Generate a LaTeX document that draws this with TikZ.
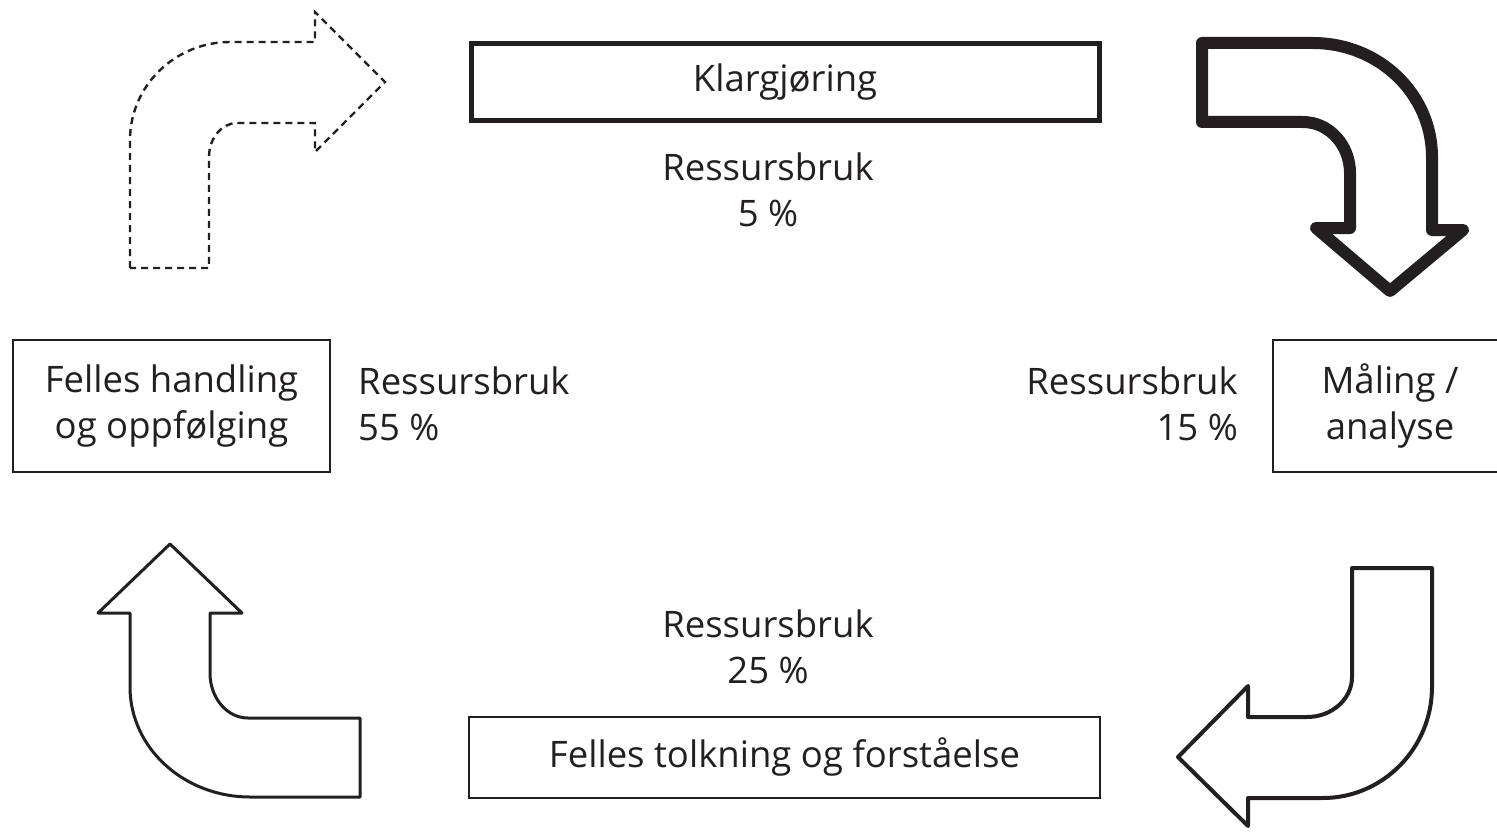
\documentclass[tikz,border=0pt]{standalone}
\usepackage{fontspec}
\setmainfont{Open Sans}
\definecolor{ink}{HTML}{231F20}
\begin{document}
\begin{tikzpicture}[x=1pt,y=-1pt,
  every node/.style={text=ink, font=\fontsize{36.5}{46.5}\selectfont},
  boxthin/.style={draw=ink, line width=2.5pt, inner sep=0pt},
  boxthick/.style={draw=ink, line width=5pt, inner sep=0pt},
  lbl/.style={align=center, inner sep=0pt},
  arrowdash/.style={draw=ink, line width=2.4pt, dash pattern=on 7pt off 5pt},
  arrowbold/.style={draw=ink, line width=12pt, line join=round},
  arrowmid/.style={draw=ink, line width=4pt, line join=round},
  arrowthin/.style={draw=ink, line width=3pt, line join=round}]
\useasboundingbox (0,0) rectangle (1497,832);
\begin{scope}
\clip (0,0) rectangle (1497,832);
% boxes
\node[boxthick, minimum width=628pt, minimum height=77pt] (klar) at (785,82) {Klargjøring};
\node[boxthin, minimum width=631pt, minimum height=81pt] (tolk) at (784.5,757.5) {Felles tolkning og forståelse};
\node[boxthin, minimum width=317pt, minimum height=132pt, align=center] (hand) at (171.5,406) {Felles handling\\og oppfølging};
\node[boxthin, minimum width=234pt, minimum height=132pt, align=center] (maal) at (1390,406) {Måling /\\analyse};
% labels
\node[lbl] (r5) at (768,190) {Ressursbruk\\5 \%};
\node[lbl, align=left, anchor=west] (r55) at (358,404) {Ressursbruk\\55 \%};
\node[lbl, align=right, anchor=east] (r15) at (1238,404) {Ressursbruk\\15 \%};
\node[lbl] (r25) at (768,647) {Ressursbruk\\25 \%};
% arrow 1 (dashed, top-left)
\draw[arrowdash] (130,268) -- (130,140) .. controls (130,86) and (175,42) .. (230,42)
  -- (315,42) -- (315,12) -- (385,82) -- (315,152) -- (315,123) -- (237,123)
  .. controls (222,123) and (209,138) .. (209,157) -- (209,268) -- cycle;
% arrow 2 (bold, top-right)
\draw[arrowbold] (1202,43) -- (1313,43) .. controls (1379,43) and (1432,94) .. (1432,157)
  -- (1432,230) -- (1463,230) -- (1390,291) -- (1316,228) -- (1350,228) -- (1350,173)
  .. controls (1350,145) and (1329,122) .. (1303,122) -- (1202,122) -- cycle;
% arrow 3 (bottom-right)
\draw[arrowmid] (1352,568) -- (1432,568) -- (1432,687) .. controls (1432,748) and (1383,798) .. (1323,798)
  -- (1248,798) -- (1248,826) -- (1178,757) -- (1248,686) -- (1248,717) -- (1307,717)
  .. controls (1332,717) and (1352,699) .. (1352,677) -- cycle;
% arrow 4 (bottom-left)
\draw[arrowthin] (170,544) -- (242,613) -- (210,613) -- (210,673)
  .. controls (210,698) and (227,718) .. (248,718) -- (360,718) -- (360,797) -- (250,797)
  .. controls (184,797) and (130,748) .. (130,687) -- (130,613) -- (98,613) -- cycle;
\end{scope}
\end{tikzpicture}
\end{document}
